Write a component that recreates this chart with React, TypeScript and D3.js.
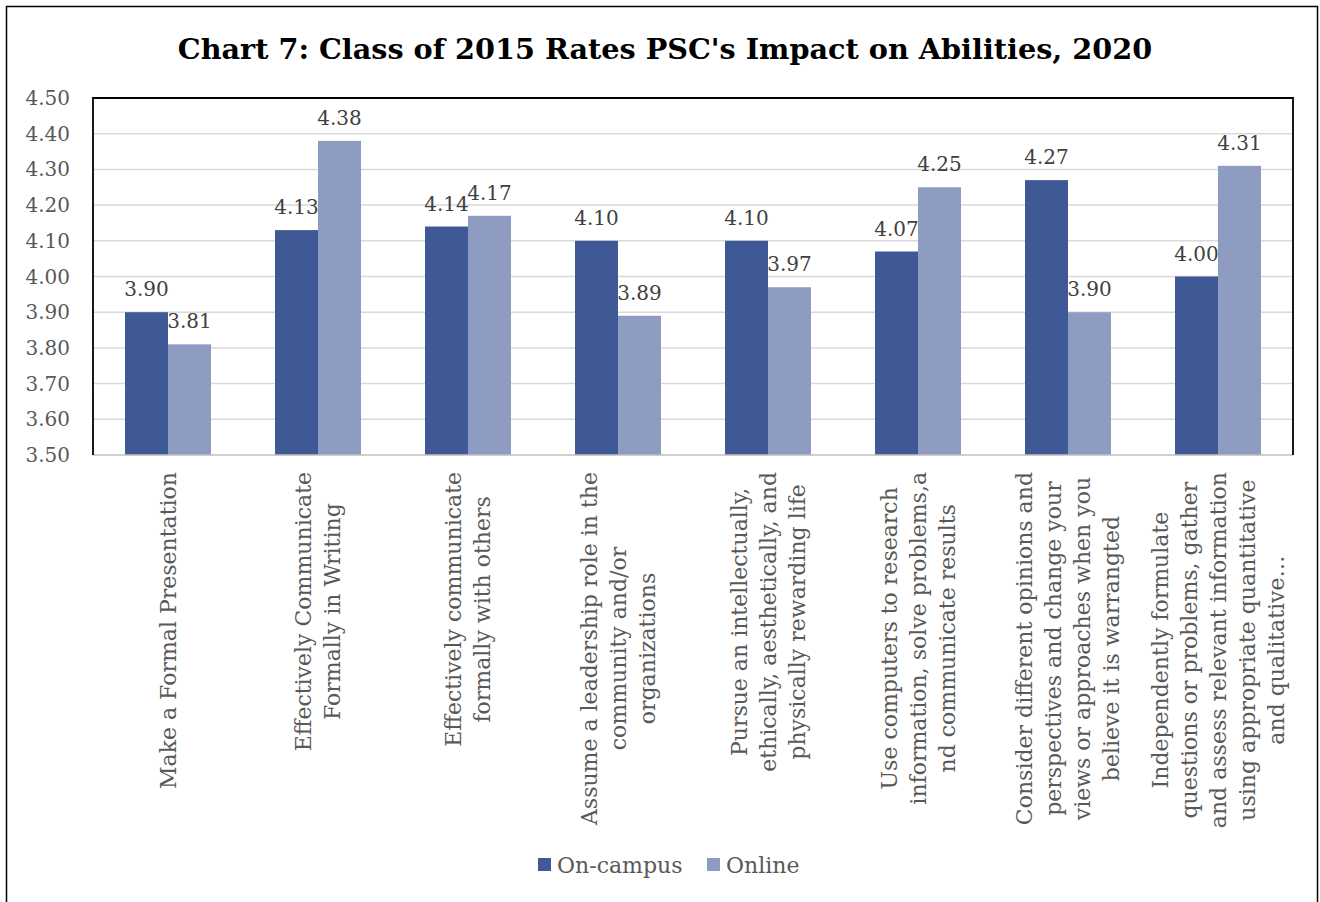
import React, { useEffect, useRef } from "react";
import * as d3 from "d3";

const categories: string[][] = [
  ["Make a Formal Presentation"],
  ["Effectively Communicate", "Formally in Writing"],
  ["Effectively communicate", "formally with others"],
  ["Assume a leadership role in the", "community and/or", "organizations"],
  ["Pursue an intellectually,", "ethically, aesthetically, and", "physically rewarding life"],
  ["Use computers to research", "information, solve problems,a", "nd communicate results"],
  ["Consider different opinions and", "perspectives and change your", "views or approaches when you", "believe it is warrangted"],
  ["Independently formulate", "questions or problems, gather", "and assess relevant information", "using appropriate quantitative", "and qualitative…"],
];
const seriesNames = ["On-campus", "Online"];
const onCampus = [3.9, 4.13, 4.14, 4.1, 4.1, 4.07, 4.27, 4.0];
const online = [3.81, 4.38, 4.17, 3.89, 3.97, 4.25, 3.9, 4.31];
const yTicks = [3.5, 3.6, 3.7, 3.8, 3.9, 4.0, 4.1, 4.2, 4.3, 4.4, 4.5];
const colors = ["#3F5896", "#8F9CC2"];
const title = "Chart 7: Class of 2015 Rates PSC's Impact on Abilities, 2020";

const W = 1320;
const H = 902;
const FONT = "'DejaVu Serif', serif";

export default function App() {
  const ref = useRef<SVGSVGElement | null>(null);

  useEffect(() => {
    const svg = d3.select(ref.current);
    svg.selectAll("*").remove();

    const left = 93, right = 1293, top = 98, bottom = 455;
    const idx = categories.map((_, i) => String(i));
    const x = d3.scaleBand<string>().domain(idx).range([left, right]).paddingInner(64 / 150).paddingOuter(32 / 150);
    const xs = d3.scaleBand<string>().domain(seriesNames).range([0, x.bandwidth()]);
    const y = d3.scaleLinear().domain([3.5, 4.5]).range([bottom, top]);

    svg.append("rect").attr("width", W).attr("height", H).attr("fill", "#fff");
    svg.append("rect").attr("x", 6.5).attr("y", 6.5).attr("width", 1311).attr("height", 920)
      .attr("fill", "none").attr("stroke", "#000").attr("stroke-width", 1.5);

    svg.append("text").attr("x", 665).attr("y", 59).attr("text-anchor", "middle")
      .attr("font-family", FONT).attr("font-weight", "bold").attr("font-size", 28.7).attr("fill", "#000")
      .text(title);

    // gridlines
    svg.append("g").selectAll("line").data(yTicks.slice(1)).join("line")
      .attr("x1", left).attr("x2", right).attr("y1", (d) => y(d)).attr("y2", (d) => y(d))
      .attr("stroke", "#D9D9D9").attr("stroke-width", 1.5);

    // y tick labels
    svg.append("g").selectAll("text").data(yTicks).join("text")
      .attr("x", 70).attr("y", (d) => y(d) + 7).attr("text-anchor", "end")
      .attr("font-family", FONT).attr("font-size", 20).attr("fill", "#595959")
      .text((d) => d.toFixed(2));

    // bars
    const data = [onCampus, online];
    data.forEach((vals, s) => {
      const g = svg.append("g");
      g.selectAll("rect").data(vals).join("rect")
        .attr("x", (_, i) => (x(String(i)) as number) + (xs(seriesNames[s]) as number))
        .attr("width", xs.bandwidth())
        .attr("y", (d) => y(d))
        .attr("height", (d) => bottom - y(d))
        .attr("fill", colors[s]);
    });
    data.forEach((vals, s) => {
      svg.append("g").selectAll("text").data(vals).join("text")
        .attr("x", (_, i) => (x(String(i)) as number) + (xs(seriesNames[s]) as number) + xs.bandwidth() / 2)
        .attr("y", (d) => y(d) - 16)
        .attr("text-anchor", "middle")
        .attr("font-family", FONT).attr("font-size", 20).attr("fill", "#404040")
        .text((d) => d.toFixed(2));
    });

    // axis bottom line and plot border
    svg.append("line").attr("x1", left).attr("x2", right).attr("y1", bottom).attr("y2", bottom)
      .attr("stroke", "#BFBFBF").attr("stroke-width", 1.5);
    svg.append("path")
      .attr("d", `M${left},${bottom}V${top}H${right}V${bottom}`)
      .attr("fill", "none").attr("stroke", "#000").attr("stroke-width", 1.8);

    // category labels
    categories.forEach((lines, i) => {
      const cx = (x(String(i)) as number) + x.bandwidth() / 2;
      const g = svg.append("g").attr("transform", `translate(${cx},472) rotate(-90)`);
      const n = lines.length;
      const texts = g.selectAll("text").data(lines).join("text")
        .attr("y", (_, j) => (j - (n - 1) / 2) * 29 + 7.5)
        .attr("text-anchor", "middle")
        .attr("font-family", FONT).attr("font-size", 22).attr("fill", "#595959")
        .text((d) => d);
      let maxW = 0;
      texts.each(function () {
        const w = (this as SVGTextElement).getComputedTextLength();
        if (w > maxW) maxW = w;
      });
      texts.attr("x", -maxW / 2);
    });

    // legend
    const leg = [{ x: 538, name: seriesNames[0], c: colors[0] }, { x: 707, name: seriesNames[1], c: colors[1] }];
    leg.forEach((l) => {
      svg.append("rect").attr("x", l.x).attr("y", 858).attr("width", 13).attr("height", 13).attr("fill", l.c);
      svg.append("text").attr("x", l.x + 19).attr("y", 873)
        .attr("font-family", FONT).attr("font-size", 22).attr("fill", "#595959").text(l.name);
    });
  }, []);

  return (
    <svg ref={ref} width={W} height={H} style={{ position: "absolute", left: 0, top: 0, display: "block" }} />
  );
}
